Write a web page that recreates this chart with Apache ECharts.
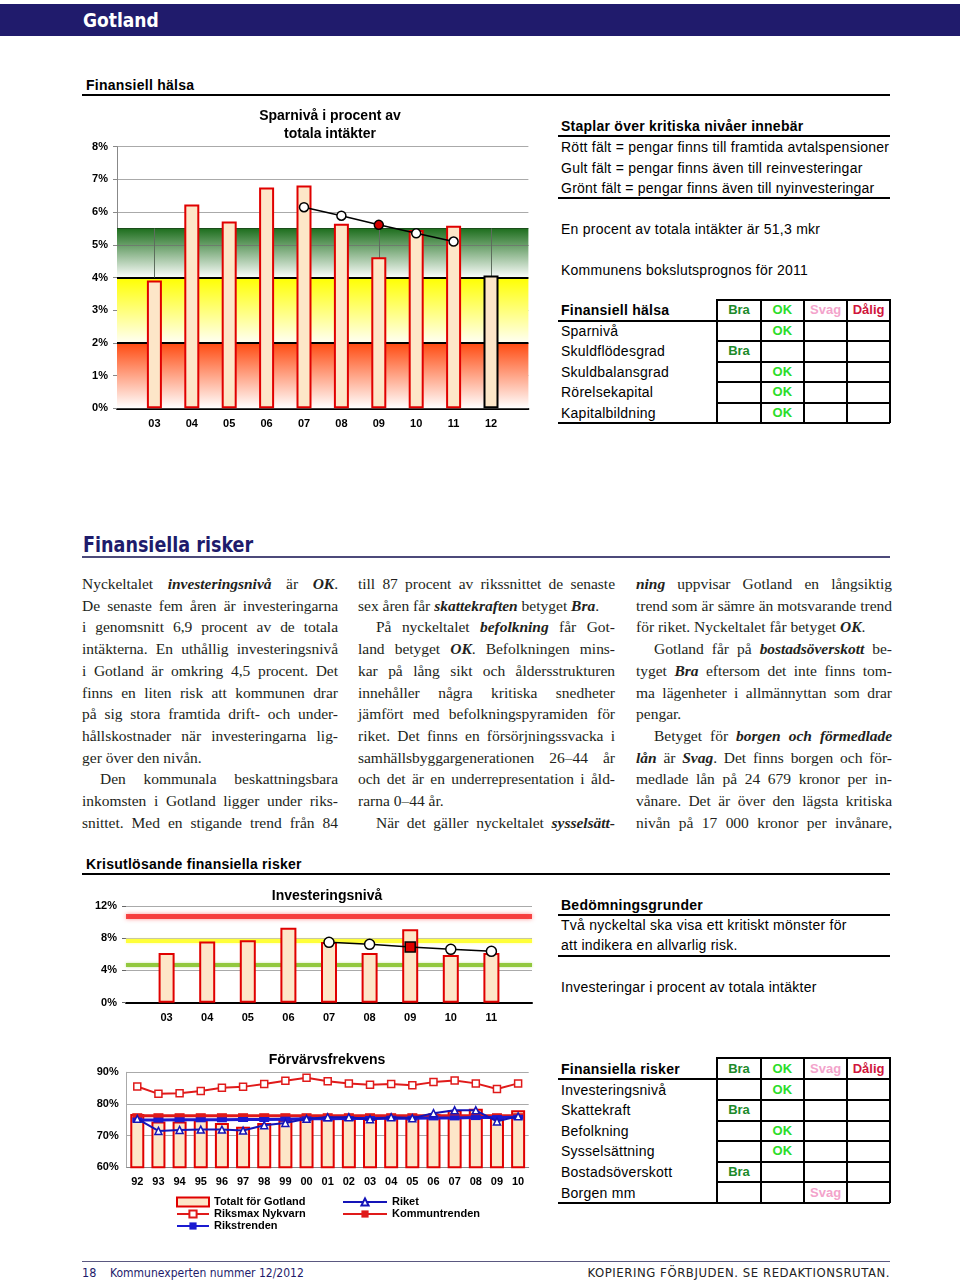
<!DOCTYPE html>
<html><head><meta charset="utf-8">
<script src="https://cdn.jsdelivr.net/npm/echarts@6/dist/echarts.min.js"></script>
<style>
body{margin:0;width:960px;height:1282px;position:relative;overflow:hidden;background:#fff;font-family:"Liberation Sans",Arial,sans-serif;color:#000}
.a{position:absolute;white-space:nowrap;line-height:18px;font-size:14px;letter-spacing:0.25px}
.b{font-weight:bold}
.cond{font-family:"DejaVu Sans Condensed","DejaVu Sans",sans-serif;font-stretch:condensed;font-weight:bold;letter-spacing:0}
.ln{position:absolute;background:#000}
.col{position:absolute;top:573px;font-family:"Liberation Serif","Times New Roman",serif;font-size:15.5px;line-height:21.7px;color:#231f20}
.j{text-align:justify;text-align-last:justify}
.in{padding-left:18px}
.chart{position:absolute}
.cell{position:absolute;text-align:center;font-weight:bold;font-size:13px;line-height:20px}
</style></head><body>

<div class="ln" style="left:0;top:4px;width:960px;height:32px;background:#201b6c"></div>
<div class="a cond" style="left:83px;top:8px;line-height:24px;font-size:19px;color:#fff">Gotland</div>

<div class="a b" style="left:86px;top:76px">Finansiell hälsa</div>
<div class="ln" style="left:82px;top:94px;width:808px;height:2px"></div>

<div class="chart" id="c1" style="left:80px;top:100px;width:460px;height:345px"></div>

<div class="a b" style="left:561px;top:117px">Staplar över kritiska nivåer innebär</div>
<div class="ln" style="left:558px;top:135px;width:332px;height:2px"></div>
<div class="a" style="left:561px;top:138px">Rött fält = pengar finns till framtida avtalspensioner</div>
<div class="a" style="left:561px;top:158.5px">Gult fält = pengar finns även till reinvesteringar</div>
<div class="a" style="left:561px;top:179px">Grönt fält = pengar finns även till nyinvesteringar</div>
<div class="ln" style="left:558px;top:196.5px;width:332px;height:2px"></div>
<div class="a" style="left:561px;top:220px">En procent av totala intäkter är 51,3 mkr</div>
<div class="a" style="left:561px;top:261px">Kommunens bokslutsprognos för 2011</div>

<div id="t1"></div>

<div class="a cond" style="left:83px;top:532px;line-height:26px;font-size:21px;color:#1e1b6b;transform:scaleX(0.93);transform-origin:0 0">Finansiella risker</div>
<div class="ln" style="left:82px;top:556px;width:808px;height:2px;background:#4c4a7a"></div>

<div class="col" style="left:82px;width:256px">
<div class="j">Nyckeltalet <b><i>investeringsnivå</i></b> är <b><i>OK</i></b>.</div>
<div class="j">De senaste fem åren är investeringarna</div>
<div class="j">i genomsnitt 6,9 procent av de totala</div>
<div class="j">intäkterna. En uthållig investeringsnivå</div>
<div class="j">i Gotland är omkring 4,5 procent. Det</div>
<div class="j">finns en liten risk att kommunen drar</div>
<div class="j">på sig stora framtida drift- och under-</div>
<div class="j">hållskostnader när investeringarna lig-</div>
<div>ger över den nivån.</div>
<div class="j in">Den kommunala beskattningsbara</div>
<div class="j">inkomsten i Gotland ligger under riks-</div>
<div class="j">snittet. Med en stigande trend från 84</div>
</div>

<div class="col" style="left:358px;width:257px">
<div class="j">till 87 procent av rikssnittet de senaste</div>
<div>sex åren får <b><i>skattekraften</i></b> betyget <b><i>Bra</i></b>.</div>
<div class="j in">På nyckeltalet <b><i>befolkning</i></b> får Got-</div>
<div class="j">land betyget <b><i>OK</i></b>. Befolkningen mins-</div>
<div class="j">kar på lång sikt och åldersstrukturen</div>
<div class="j">innehåller några kritiska snedheter</div>
<div class="j">jämfört med befolkningspyramiden för</div>
<div class="j">riket. Det finns en försörjningssvacka i</div>
<div class="j">samhällsbyggargenerationen 26–44 år</div>
<div class="j">och det är en underrepresentation i åld-</div>
<div>rarna 0–44 år.</div>
<div class="j in">När det gäller nyckeltalet <b><i>sysselsätt-</i></b></div>
</div>

<div class="col" style="left:636px;width:256px">
<div class="j"><b><i>ning</i></b> uppvisar Gotland en långsiktig</div>
<div class="j">trend som är sämre än motsvarande trend</div>
<div>för riket. Nyckeltalet får betyget <b><i>OK</i></b>.</div>
<div class="j in">Gotland får på <b><i>bostadsöverskott</i></b> be-</div>
<div class="j">tyget <b><i>Bra</i></b> eftersom det inte finns tom-</div>
<div class="j">ma lägenheter i allmännyttan som drar</div>
<div>pengar.</div>
<div class="j in">Betyget för <b><i>borgen och förmedlade</i></b></div>
<div class="j"><b><i>lån</i></b> är <b><i>Svag</i></b>. Det finns borgen och för-</div>
<div class="j">medlade lån på 24 679 kronor per in-</div>
<div class="j">vånare. Det är över den lägsta kritiska</div>
<div class="j">nivån på 17 000 kronor per invånare,</div>
</div>

<div class="a b" style="left:86px;top:855px">Krisutlösande finansiella risker</div>
<div class="ln" style="left:82px;top:873px;width:808px;height:2px"></div>

<div class="chart" id="c2" style="left:80px;top:880px;width:460px;height:150px"></div>
<div class="chart" id="c3" style="left:80px;top:1045px;width:460px;height:195px"></div>

<div class="a b" style="left:561px;top:896px">Bedömningsgrunder</div>
<div class="ln" style="left:558px;top:914px;width:332px;height:2px"></div>
<div class="a" style="left:561px;top:916px">Två nyckeltal ska visa ett kritiskt mönster för</div>
<div class="a" style="left:561px;top:936px">att indikera en allvarlig risk.</div>
<div class="ln" style="left:558px;top:955px;width:332px;height:2px"></div>
<div class="a" style="left:561px;top:978px">Investeringar i procent av totala intäkter</div>

<div id="t2"></div>

<div class="ln" style="left:82px;top:1261px;width:808px;height:1px;background:#5a5880"></div>
<div class="a cond" style="left:82px;top:1264px;font-size:12.5px;font-weight:normal;color:#1e1b6b">18</div>
<div class="a cond" style="left:110px;top:1264px;font-size:12px;font-weight:normal;color:#1e1b6b">Kommunexperten nummer 12/2012</div>
<div class="a cond" style="right:70px;top:1264px;font-size:13px;font-weight:normal;color:#222;letter-spacing:0.55px">KOPIERING FÖRBJUDEN. SE REDAKTIONSRUTAN.</div>

<script>
// ---------- DATA ----------
const sparCats = ['', '03', '04', '05', '06', '07', '08', '09', '10', '11', '12', ''];
const sparValues = [null, 3.91, 6.23, 5.71, 6.75, 6.81, 5.64, 4.62, 5.45, 5.58, 4.06, null];
const sparTrend = [null, null, null, null, null, 6.15, 5.89, 5.61, 5.35, 5.10, null, null];
const sparBandLimits = [0, 2, 4, 5.5];

const invCats = ['', '03', '04', '05', '06', '07', '08', '09', '10', '11', ''];
const invValues = [null, 6.16, 7.61, 7.74, 9.31, 7.53, 6.16, 9.10, 5.92, 6.16, null];
const invTrend = [null, null, null, null, null, 7.49, 7.24, 6.91, 6.62, 6.37, null];
const invLimits = [10.76, 7.7, 4.68];

const forvCats = ['92', '93', '94', '95', '96', '97', '98', '99', '00', '01', '02', '03', '04', '05', '06', '07', '08', '09', '10'];
const forvGotland = [76.8, 74.5, 74.5, 75.0, 74.0, 72.8, 74.0, 75.0, 76.3, 76.3, 76.0, 75.5, 76.0, 75.8, 76.8, 78.0, 78.5, 76.3, 78.0];
const forvRiket = [75.3, 71.5, 71.8, 71.9, 71.9, 71.6, 73.3, 74.0, 75.3, 75.8, 75.8, 75.2, 75.8, 75.5, 77.1, 78.0, 78.0, 74.5, 76.1];
const forvRiksmax = [85.5, 83.2, 83.4, 84.1, 85.1, 85.4, 86.3, 87.3, 88.3, 87.2, 86.5, 86.1, 86.3, 85.9, 86.9, 87.4, 86.5, 84.7, 86.5];
const forvKommuntrend = [76.3, 76.3, 76.3, 76.3, 76.3, 76.3, 76.3, 76.3, 76.3, 76.3, 76.3, 76.3, 76.3, 76.3, 76.3, 76.3, 76.3, 76.3, 76.3];
const forvRikstrend = [74.9, 74.9, 75.0, 75.0, 75.0, 75.1, 75.1, 75.2, 75.3, 75.3, 75.4, 75.4, 75.5, 75.5, 75.6, 75.6, 75.7, 75.7, 75.8];

const gradeLabels = ['Bra', 'OK', 'Svag', 'Dålig'];
const gradeColors = ['#1c8a2a', '#2add2a', '#f3a3cb', '#d0153c'];
const halsaRows = ['Sparnivå', 'Skuldflödesgrad', 'Skuldbalansgrad', 'Rörelsekapital', 'Kapitalbildning'];
const halsaGrades = ['OK', 'Bra', 'OK', 'OK', 'OK'];
const riskRows = ['Investeringsnivå', 'Skattekraft', 'Befolkning', 'Sysselsättning', 'Bostadsöverskott', 'Borgen mm'];
const riskGrades = ['OK', 'Bra', 'OK', 'OK', 'Bra', 'Svag'];

// ---------- TABLES ----------
function addLine(parent, x, y, w, h) {
  const d = document.createElement('div'); d.className = 'ln';
  d.style.cssText = `left:${x}px;top:${y}px;width:${w}px;height:${h}px`;
  parent.appendChild(d);
}
function addText(parent, x, y, txt, cls, extra) {
  const d = document.createElement('div'); d.className = cls; d.textContent = txt;
  d.style.cssText = `left:${x}px;top:${y}px;` + (extra || '');
  parent.appendChild(d);
}
function buildTable(id, top, headBottom, rowH, title, rows, grades) {
  const p = document.getElementById(id);
  const cols = [717.3, 760.7, 804, 847.3, 890];
  const bottom = headBottom + rowH * rows.length;
  addText(p, 561, (top + headBottom) / 2 - 9, title, 'a b');
  gradeLabels.forEach((g, i) => addText(p, cols[i], (top + headBottom) / 2 - 10, g, 'cell', `width:${cols[i+1]-cols[i]}px;color:${gradeColors[i]}`));
  addLine(p, cols[0] - 1, top - 1, cols[4] - cols[0] + 1, 2);
  addLine(p, 558, headBottom - 1, 332, 2);
  addLine(p, 558, bottom - 1, 332, 2);
  for (let r = 1; r < rows.length; r++) addLine(p, cols[0] - 1, headBottom + r * rowH - 1, cols[4] - cols[0] + 1, 2);
  cols.forEach(x => addLine(p, x - 1, top - 1, 2, bottom - top + 1));
  rows.forEach((name, r) => {
    const cy = headBottom + (r + 0.5) * rowH;
    addText(p, 561, cy - 9, name, 'a');
    const gi = gradeLabels.indexOf(grades[r]);
    addText(p, cols[gi], cy - 10, grades[r], 'cell', `width:${cols[gi+1]-cols[gi]}px;color:${gradeColors[gi]}`);
  });
}
buildTable('t1', 300, 320.7, 20.5, 'Finansiell hälsa', halsaRows, halsaGrades);
buildTable('t2', 1058.3, 1079.3, 20.6, 'Finansiella risker', riskRows, riskGrades);

// fit justified lines
document.querySelectorAll('.col > div').forEach(d => {
  const W = d.clientWidth - (parseFloat(getComputedStyle(d).paddingLeft) || 0);
  const html = d.innerHTML;
  const span = document.createElement('span'); span.innerHTML = html; span.style.whiteSpace = 'nowrap';
  d.innerHTML = ''; d.appendChild(span);
  const w = span.getBoundingClientRect().width;
  d.innerHTML = html;
  if (w > W - 1) { d.style.letterSpacing = ((W - 1 - w) / d.textContent.length) + 'px'; }
});

// ---------- CHARTS ----------
const FONT = 'Liberation Sans';
const peach = '#fde6c8';
const lbl = { fontFamily: FONT, fontSize: 11, fontWeight: 'bold', color: '#000' };
const titleStyle = { fontFamily: FONT, fontSize: 14, fontWeight: 'bold', lineHeight: 18, color: '#000' };
const grad = (c1, c2) => ({ type: 'linear', x: 0, y: 0, x2: 0, y2: 1, colorStops: [{ offset: 0, color: c1 }, { offset: 1, color: c2 }] });

// Chart 1: Sparnivå
const bandCats = sparCats.filter(c => c !== '');
const ch1 = echarts.init(document.getElementById('c1'));
ch1.setOption({
  animation: false,
  title: { text: 'Sparnivå i procent av\ntotala intäkter', left: 250, top: 7, padding: 0, textAlign: 'center', textStyle: titleStyle },
  grid: { left: 37, top: 46.7, width: 411.4, height: 261.6 },
  xAxis: { type: 'category', data: sparCats, boundaryGap: false,
    axisLine: { lineStyle: { color: '#000', width: 2 } }, axisTick: { show: false },
    axisLabel: Object.assign({ margin: 10, interval: 0 }, lbl), splitLine: { show: false } },
  yAxis: { type: 'value', min: 0, max: 8, interval: 1,
    axisLine: { show: true, lineStyle: { color: '#888' } }, axisTick: { show: true, length: 4, lineStyle: { color: '#888' } },
    axisLabel: Object.assign({ margin: 9, formatter: '{value}%' }, lbl),
    splitLine: { lineStyle: { color: '#aaa' } } },
  series: [
    { type: 'bar', data: sparValues.map((v, i) => ({ value: v, itemStyle: i === 10 ? { borderColor: '#000' } : undefined })),
      barWidth: 15, z: 2,
      itemStyle: { color: peach, borderColor: '#e00000', borderWidth: 2 },
      markArea: { silent: true, z: 1, data: [
        [{ yAxis: sparBandLimits[0], itemStyle: { color: grad('#ff4a10', '#ffffff') } }, { yAxis: sparBandLimits[1] }],
        [{ yAxis: sparBandLimits[1], itemStyle: { color: grad('#ffff00', '#fffff4') } }, { yAxis: sparBandLimits[2] }],
        [{ yAxis: sparBandLimits[2], itemStyle: { color: grad('#1d6e1d', '#fbfdfb') } }, { yAxis: sparBandLimits[3] }]
      ] },
      markLine: { silent: true, z: 1.5, symbol: 'none', label: { show: false },
        lineStyle: { color: '#000', width: 2, type: 'solid' },
        data: [{ yAxis: sparBandLimits[1] }, { yAxis: sparBandLimits[2] },
          { yAxis: sparBandLimits[3], lineStyle: { color: '#1a4d1a', width: 1 } },
          { yAxis: 5, lineStyle: { color: '#6d7d6d', width: 1 } }
        ].concat(bandCats.map(c => [{ coord: [c, sparBandLimits[2]], lineStyle: { color: '#5d6d5d', width: 1 } }, { coord: [c, sparBandLimits[3]] }])) } },
    { type: 'line', data: sparTrend.map((v, i) => i === 7 ? { value: v, itemStyle: { color: '#d40000' } } : v),
      z: 3, symbol: 'circle', symbolSize: 9, connectNulls: false,
      lineStyle: { color: '#000', width: 1.5 }, itemStyle: { color: '#fff', borderColor: '#000', borderWidth: 1.5 } }
  ]
});

// Chart 2: Investeringsnivå
const ch2 = echarts.init(document.getElementById('c2'));
ch2.setOption({
  animation: false,
  title: { text: 'Investeringsnivå', left: 247, top: 7, padding: 0, textAlign: 'center', textStyle: titleStyle },
  grid: { left: 46, top: 26, width: 406, height: 96.7 },
  xAxis: { type: 'category', data: invCats, boundaryGap: false,
    axisLine: { lineStyle: { color: '#000', width: 2 } }, axisTick: { show: false },
    axisLabel: Object.assign({ margin: 10, interval: 0 }, lbl) },
  yAxis: { type: 'value', min: 0, max: 12, interval: 4,
    axisLine: { show: false }, axisTick: { show: true, length: 4, lineStyle: { color: '#666' } },
    axisLabel: Object.assign({ margin: 9, formatter: '{value}%' }, lbl),
    splitLine: { lineStyle: { color: '#aaa' } } },
  series: [
    { type: 'bar', data: invValues, barWidth: 16, z: 2,
      itemStyle: { color: peach, borderColor: '#e00000', borderWidth: 2 },
      markLine: { silent: true, z: 1, symbol: 'none', label: { show: false },
        data: [
          { yAxis: invLimits[0], lineStyle: { color: '#f52a2a', width: 5, type: 'solid', opacity: 0.85, shadowBlur: 4, shadowColor: '#ff8080' } },
          { yAxis: invLimits[1], lineStyle: { color: '#ffff3a', width: 4, type: 'solid', shadowBlur: 3, shadowColor: '#ffff99' } },
          { yAxis: invLimits[2], lineStyle: { color: '#92c83e', width: 4, type: 'solid', shadowBlur: 3, shadowColor: '#c8e6a0' } }
        ] } },
    { type: 'line', data: invTrend.map((v, i) => i === 7 ? { value: v, symbol: 'rect', symbolSize: 10, itemStyle: { color: '#e00000' } } : v),
      z: 3, symbol: 'circle', symbolSize: 10,
      lineStyle: { color: '#000', width: 1.5 }, itemStyle: { color: '#fff', borderColor: '#000', borderWidth: 1.5 } }
  ]
});

// Chart 3: Förvärvsfrekvens
const ch3 = echarts.init(document.getElementById('c3'));
const legText = { fontFamily: FONT, fontSize: 11, fontWeight: 'bold', color: '#000', lineHeight: 12 };
ch3.setOption({
  animation: false,
  title: { text: 'Förvärvsfrekvens', left: 247, top: 6, padding: 0, textAlign: 'center', textStyle: titleStyle },
  legend: [
    { data: [{ name: 'Totalt för Gotland', icon: 'rect' }, 'Riksmax Nykvarn', 'Rikstrenden'], orient: 'vertical', left: 96, top: 151,
      padding: 0, itemGap: 0, itemWidth: 32, itemHeight: 9, textStyle: legText, selectedMode: false },
    { data: ['Riket', 'Kommuntrenden'], orient: 'vertical', left: 262, top: 151,
      padding: 0, itemGap: 0, itemWidth: 44, itemHeight: 9, textStyle: legText, selectedMode: false }
  ],
  grid: { left: 46.7, top: 27.3, width: 402, height: 95 },
  xAxis: { type: 'category', data: forvCats, boundaryGap: true,
    axisLine: { lineStyle: { color: '#888' } }, axisTick: { show: false },
    axisLabel: Object.assign({ margin: 9, interval: 0 }, lbl) },
  yAxis: { type: 'value', min: 60, max: 90, interval: 10,
    axisLine: { show: true, lineStyle: { color: '#aaa' } }, axisTick: { show: false },
    axisLabel: Object.assign({ margin: 8, formatter: '{value}%' }, lbl),
    splitLine: { lineStyle: { color: '#aaa' } } },
  series: [
    { name: 'Totalt för Gotland', type: 'bar', data: forvGotland, barWidth: 14, z: 2,
      itemStyle: { color: peach, borderColor: '#e00000', borderWidth: 2 } },
    { name: 'Riksmax Nykvarn', type: 'line', data: forvRiksmax, z: 4, symbol: 'rect', symbolSize: 7,
      lineStyle: { color: '#e01a1a', width: 2 }, itemStyle: { color: '#fff', borderColor: '#e01a1a', borderWidth: 1.5 } },
    { name: 'Kommuntrenden', type: 'line', data: forvKommuntrend, z: 3, symbol: 'rect', symbolSize: [10, 5],
      lineStyle: { color: '#e01a1a', width: 3 }, itemStyle: { color: '#e01a1a' } },
    { name: 'Rikstrenden', type: 'line', data: forvRikstrend, z: 3, symbol: 'rect', symbolSize: [10, 5],
      lineStyle: { color: '#1a1ad0', width: 3 }, itemStyle: { color: '#1a1ad0' } },
    { name: 'Riket', type: 'line', data: forvRiket, z: 5, symbol: 'triangle', symbolSize: 7,
      lineStyle: { color: '#1414b8', width: 2 }, itemStyle: { color: '#fff', borderColor: '#1414b8', borderWidth: 1.5 } }
  ]
});
</script>
</body></html>
